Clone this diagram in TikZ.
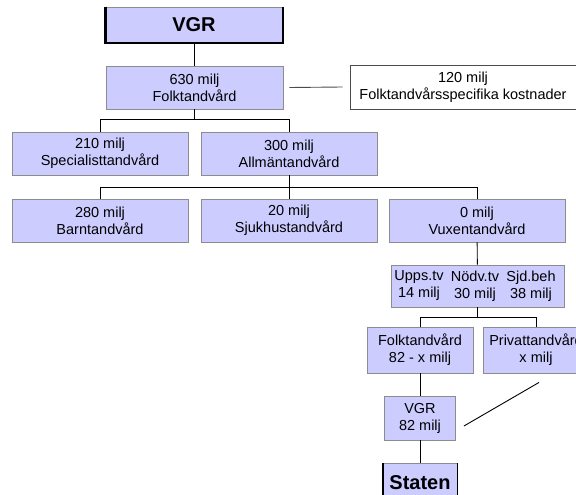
\documentclass[tikz,border=0pt]{standalone}
\usepackage{fontspec}
\setmainfont{Liberation Sans}
\usetikzlibrary{calc}
\definecolor{boxfill}{RGB}{204,204,255}

\begin{document}
\begin{tikzpicture}[x=1pt,y=-1pt,
  box/.style={draw=black!45, fill=boxfill, line width=0.9pt, inner sep=0pt, align=center,
    font=\fontsize{14.5}{17}\selectfont, minimum height=43pt, minimum width=176pt},
  boldbox/.style={box, font=\fontsize{20}{22}\selectfont\bfseries},
  heavy/.style={draw=black, line width=2pt},
  txt/.style={inner sep=0pt, align=center, font=\fontsize{14.5}{17}\selectfont},
  conn/.style={draw=black, line width=0.9pt}]

\useasboundingbox (0,0) rectangle (576,495);

\node[boldbox, minimum width=178pt, minimum height=36pt] (vgr) at (194,25) {VGR};
\draw[heavy] (vgr.north west) -- (vgr.south west) -- (vgr.south east) -- (vgr.north east);
\draw[heavy, line width=3pt] ([xshift=0.5pt]vgr.north west) -- ([xshift=0.5pt]vgr.south west);

\node[box, minimum width=177pt] (fta) at (194.5,87.5) {630 milj\\Folktandvård};
\node[box, fill=white, draw=black!70, minimum width=226pt, minimum height=44pt] (spec) at (463,87) {120 milj\\Folktandvårsspecifika kostnader};

\node[box] (specl) at (100,153.5) {210 milj\\Specialisttandvård};
\node[box] (allm) at (289,153.5) {300 milj\\Allmäntandvård};

\node[box] (barn) at (100,220.5) {280 milj\\Barntandvård};
\node[box] (sjuk) at (289,220.5) {20 milj\\Sjukhustandvård};
\node[box] (vux) at (477,220.5) {0 milj\\Vuxentandvård};

\node[box, minimum width=173pt, minimum height=42pt] (upps) at (477.5,286) {};
\node[txt] (uppstv) at (419,286) {Upps.tv\\14 milj};
\node[txt] (nodvtv) at (475,286) {Nödv.tv\\30 milj};
\node[txt] (sjdbeh) at (531,286) {Sjd.beh\\38 milj};

\node[box, minimum width=106pt, minimum height=46pt] (folk) at (420,350) {Folktandvård\\82 - x milj};
\node[box, minimum width=106pt, minimum height=46pt] (priv) at (536,350) {Privattandvård\\x milj};

\node[box, minimum width=71pt, minimum height=44pt] (vgrb) at (420,418) {VGR\\82 milj};

\node[boldbox, minimum width=74pt, minimum height=40pt] (staten) at (420,483) {Staten};
\draw[heavy] (staten.south west) -- (staten.north west);
\draw[heavy, line width=1.4pt] (staten.south east) -- (staten.north east);

\draw[conn] (vgr.south) -- (vgr.south |- fta.north);
\draw[conn, draw=black!70] ($(fta.east)+(6,0)$) -- ($(spec.west)+(-7,0)$);
\draw[conn] (fta.south) -- ++(0,11);
\draw[conn] (specl.north) -- ++(0,-12) -| (allm.north);
\draw[conn] (allm) -- (sjuk);
\draw[conn] (barn.north) -- ++(0,-11) -| (vux.north);
\draw[conn] (vux) -- (upps);
\draw[conn] (upps.south) -- ++(0,11);
\draw[conn] (folk.north) -- ++(0,-9) -| (priv.north);
\draw[conn] (folk) -- (vgrb);
\draw[conn] (vgrb) -- (staten);
\draw[conn] ($(vgrb.east)+(8,8)$) -- ($(priv.south)+(3,9)$);

\end{tikzpicture}
\end{document}
